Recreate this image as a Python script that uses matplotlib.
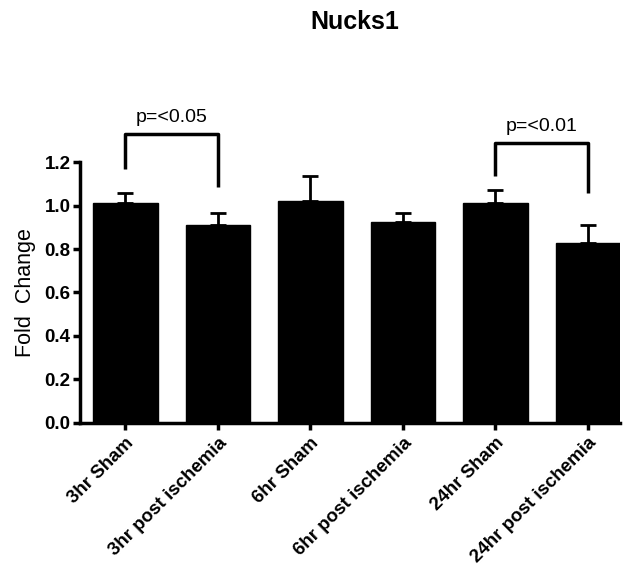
import matplotlib
matplotlib.use("Agg")
import matplotlib.pyplot as plt
import numpy as np

categories = ["3hr Sham", "3hr post ischemia", "6hr Sham", "6hr post ischemia", "24hr Sham", "24hr post ischemia"]
means = [1.01, 0.91, 1.02, 0.925, 1.01, 0.83]
err_upper = [0.05, 0.055, 0.115, 0.04, 0.06, 0.08]
yticks = [0.0, 0.2, 0.4, 0.6, 0.8, 1.0, 1.2]
comparisons = [(0, 1, "p=<0.05", 1.33, 1.17, 1.085), (4, 5, "p=<0.01", 1.29, 1.135, 1.06)]

plt.rcParams['font.family'] = ['Liberation Sans', 'DejaVu Sans']

fig = plt.figure(figsize=(6.31, 5.69), dpi=100)
ax = fig.add_axes([0.127, 0.257, 0.856, 0.458])
x = np.arange(len(categories))
ax.bar(x, means, width=0.70, color='black', edgecolor='black', zorder=2)
ax.errorbar(x, means, yerr=[np.zeros(len(means)), err_upper], fmt='none',
            ecolor='black', elinewidth=2, capsize=6, capthick=2, zorder=1)

ax.set_xlim(-0.49, 5.35)
ax.set_ylim(0, 1.2)
ax.set_yticks(yticks)
ax.set_yticklabels([f"{v:.1f}" for v in yticks], fontsize=13.5, fontweight='bold')
ax.set_xticks(x)
ax.set_xticklabels(categories, rotation=45, ha='right', rotation_mode='anchor',
                   fontsize=13.5, fontweight='bold')
for s in ['top', 'right']:
    ax.spines[s].set_visible(False)
for s in ['left', 'bottom']:
    ax.spines[s].set_linewidth(2.5)
ax.tick_params(axis='both', width=2.5, length=5, direction='out')
ax.tick_params(axis='y', pad=2)
ax.set_ylabel("Fold  Change", fontsize=15.5, labelpad=6)

for i, j, txt, ytop, yl, yr in comparisons:
    ax.plot([x[i], x[i], x[j], x[j]], [yl, ytop, ytop, yr], color='black', lw=2.5,
            clip_on=False, solid_capstyle='butt')
    ax.text((x[i] + x[j]) / 2, ytop + 0.035, txt, ha='center', va='bottom', fontsize=14)

fig.text(0.563, 0.961, "Nucks1", ha='center', va='center', fontsize=18, fontweight='bold')
fig.savefig("out.png", dpi=100)
